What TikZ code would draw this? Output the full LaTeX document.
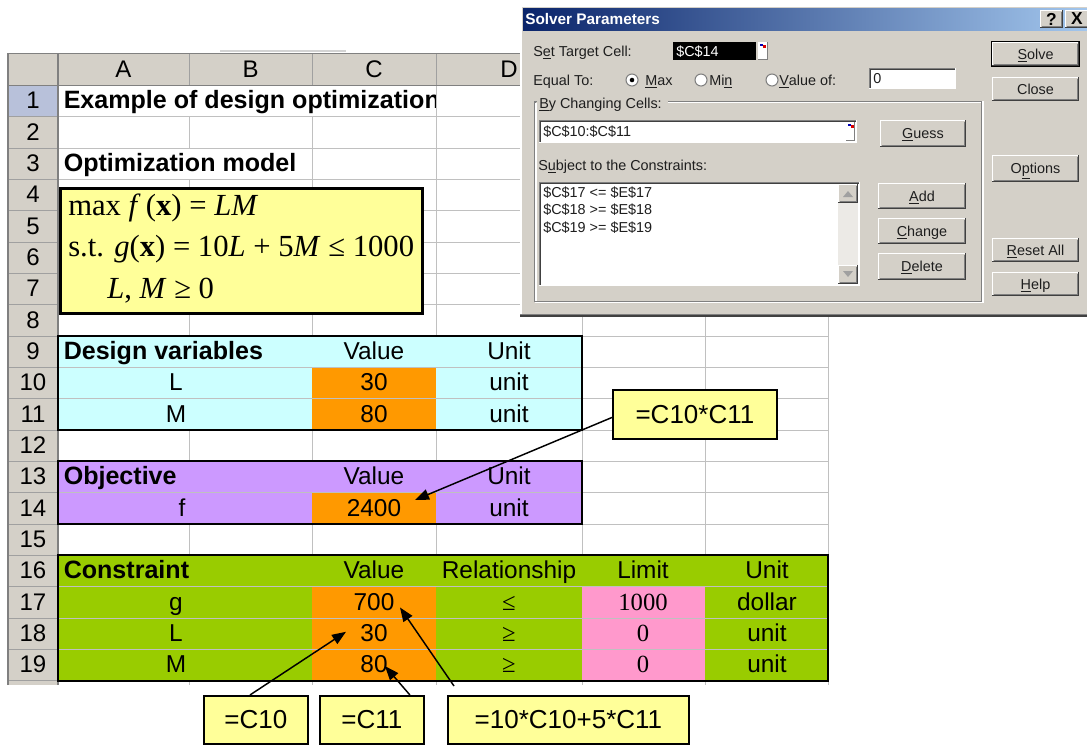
\documentclass[tikz,border=0pt]{standalone}
\usepackage{fontspec}
\setmainfont{Liberation Sans}
\newfontfamily\serifface{Liberation Serif}
\usetikzlibrary{arrows.meta,calc}

\definecolor{winface}{HTML}{D4D0C8}
\definecolor{winshadow}{HTML}{808080}
\definecolor{windark}{HTML}{404040}
\definecolor{gridgray}{HTML}{C0C0C0}
\definecolor{hdrline}{HTML}{A0A0A0}
\definecolor{selrow}{HTML}{B8C1DA}
\definecolor{cyanfill}{HTML}{CCFFFF}
\definecolor{purplefill}{HTML}{CC99FF}
\definecolor{greenfill}{HTML}{99CC00}
\definecolor{orangefill}{HTML}{FF9900}
\definecolor{pinkfill}{HTML}{FF99CC}
\definecolor{notefill}{HTML}{FFFF99}
\definecolor{titleA}{HTML}{0A246A}
\definecolor{titleB}{HTML}{A6CAF0}
\definecolor{dlgtext}{HTML}{1E1E1E}
\definecolor{trackfill}{HTML}{ECEAE6}

% worksheet rows: top edge, middle and text baseline of row #1
\newcommand\rtop[1]{(54.17+31.33*(#1))}
\newcommand\rmid[1]{(69.84+31.33*(#1))}
\newcommand\rbase[1]{(77.5+31.33*(#1))}

% classic 3D panels of the dialog
\newcommand\raisedpanel[4]{%
  \fill[winface] (#1,#2) rectangle (#3,#4);
  \draw[white,line width=0.8pt] (#1+0.5,#4-1) -- (#1+0.5,#2+0.5) -- (#3-1,#2+0.5);
  \draw[windark,line width=0.8pt] (#1,#4-0.5) -- (#3-0.5,#4-0.5) -- (#3-0.5,#2);
  \draw[winshadow,line width=0.8pt] (#1+1.5,#4-1.5) -- (#3-1.5,#4-1.5) -- (#3-1.5,#2+1.5);}
\newcommand\sunkenfield[5]{%
  \fill[#1] (#2,#3) rectangle (#4,#5);
  \draw[winshadow,line width=0.8pt] (#2+0.5,#5) -- (#2+0.5,#3+0.5) -- (#4,#3+0.5);
  \draw[windark,line width=0.8pt] (#2+1.5,#5-1) -- (#2+1.5,#3+1.5) -- (#4-1,#3+1.5);
  \draw[white,line width=0.8pt] (#2,#5-0.5) -- (#4-0.5,#5-0.5) -- (#4-0.5,#3);}
\newcommand\dlgbutton[6]{%
  \raisedpanel{#2}{#3}{#4}{#5}
  \node[dlg] (#1) at ({(#2+#4)/2},{(#3+#5)/2}) {#6};}
\newcommand\refbutton[4]{%
  \fill[white] (#1,#2) rectangle (#3,#4);
  \draw[winshadow,line width=0.8pt] (#3-0.5,#2) -- (#3-0.5,#4-0.5) -- (#1,#4-0.5);
  \fill[blue!70!black] (#1+2,#2+1.5) rectangle (#1+5,#2+3.5);
  \fill[red!85!black] (#1+5,#2+3) rectangle (#1+8,#2+6);}

\begin{document}
\begin{tikzpicture}[x=0.75pt,y=-0.75pt,
  cell/.style={inner sep=0pt, anchor=base, font=\fontsize{18.3}{20}\selectfont},
  headcell/.style={inner sep=0pt, anchor=base west, font=\fontsize{18.8}{20}\selectfont\bfseries},
  rownum/.style={inner sep=0pt, anchor=base, font=\fontsize{18}{20}\selectfont},
  sercell/.style={inner sep=0pt, anchor=base, font=\fontsize{18.5}{20}\selectfont\serifface},
  formula/.style={inner sep=0pt, anchor=base west, font=\fontsize{23}{26}\selectfont\serifface},
  modelbox/.style={draw=black, line width=2.3pt, fill=notefill, inner sep=0pt, anchor=north west},
  note/.style={draw=black, line width=1.4pt, fill=notefill, inner sep=0pt, anchor=north west,
    font=\fontsize{19.5}{22}\selectfont},
  arr/.style={-{Triangle[length=10.5pt,width=8pt]}, line width=1.1pt},
  gridline/.style={gridgray, line width=0.75pt},
  tableborder/.style={draw=black, line width=1.5pt},
  dlg/.style={inner sep=0pt, text height=7.7pt, text depth=0pt,
    font=\fontsize{10.8}{12}\selectfont, text=dlgtext},
  radio/.style={circle, draw=winshadow, fill=white, line width=0.8pt, minimum size=9pt, inner sep=0pt}]

\useasboundingbox (0,0) rectangle (1087,744);
\clip (0,0) rectangle (1087,744);
\fill[white] (0,0) rectangle (1087,744);

% ---------------- worksheet grid ----------------
\draw[gridgray!70, line width=0.9pt] (220,51) -- (346,51);
\draw[gridline] \foreach \i in {1,...,20} { (58,{\rtop{\i}}) -- (828,{\rtop{\i}}) };
\draw[gridline] \foreach \x in {189,312,436,582,705,828} { (\x,85.5) -- (\x,685) };
% overflowing titles hide the grid behind them
\fill[white] (59,{\rtop{1}+0.6}) rectangle (435.4,{\rtop{2}-0.6});
\fill[white] (59,{\rtop{3}+0.6}) rectangle (311.4,{\rtop{4}-0.6});

% column and row headers
\fill[winface] (8,53.5) rectangle (828,85.5);
\draw[hdrline, line width=0.75pt] \foreach \x in {189,312,436,582,705} { (\x,53.5) -- (\x,85.5) };
\fill[winface] (8,85.5) rectangle (58,685);
\fill[selrow] (8,85.5) rectangle (58,{\rtop{2}});
\draw[hdrline, line width=0.75pt] \foreach \i in {2,...,20} { (8,{\rtop{\i}}) -- (58,{\rtop{\i}}) };
\draw[winshadow, line width=0.9pt] (8,685) -- (8,53.5) -- (828,53.5);
\draw[winshadow, line width=0.9pt] (8,85.5) -- (828,85.5);
\draw[winshadow, line width=0.9pt] (58,53.5) -- (58,685);

\node[rownum] (colA) at (123.5,{\rbase{0}}) {A};
\node[rownum] (colB) at (250.5,{\rbase{0}}) {B};
\node[rownum] (colC) at (374,{\rbase{0}}) {C};
\node[rownum] (colD) at (509,{\rbase{0}}) {D};
\foreach \i in {1,...,19} { \node[rownum] (row\i) at (33,{\rbase{\i}}) {\i}; }

% headings
\begin{scope}
  \clip (58,85.5) rectangle (435.5,{\rtop{2}});
  \node[headcell] (sheettitle) at (63.5,{\rbase{1}}) {Example of design optimization};
\end{scope}
\node[headcell] (modelhead) at (63.5,{\rbase{3}}) {Optimization model};

% optimization model
\node[modelbox, minimum width=0.75*362pt, minimum height=0.75*125pt] (model) at (59,187) {};
\node[formula] (objline) at (68,215) {max \textit{f}\,(\textbf{x}) = \textit{LM}};
\node[formula] (conline) at (68,256.5) {s.t. \textit{g}(\textbf{x}) = 10\textit{L} + 5\textit{M} ≤ 1000};
\node[formula] (boundline) at (107,298) {\textit{L}, \textit{M} ≥ 0};

% ---------------- design variables ----------------
\fill[cyanfill] (58,{\rtop{9}}) rectangle (582,{\rtop{12}});
\fill[orangefill] (312,{\rtop{10}}) rectangle (436,{\rtop{12}});
\draw[gridline] (58,{\rtop{10}}) -- (582,{\rtop{10}}) (58,{\rtop{11}}) -- (582,{\rtop{11}});
\draw[tableborder] (58,{\rtop{9}}) rectangle (582,{\rtop{12}});
\node[headcell] (dvhead) at (63.5,{\rbase{9}}) {Design variables};
\node[cell] (dvvalue) at (374,{\rbase{9}}) {Value};
\node[cell] (dvunit) at (509,{\rbase{9}}) {Unit};
\node[cell] (nameL) at (176,{\rbase{10}}) {L};
\node[cell] (valL) at (374,{\rbase{10}}) {30};
\node[cell] (unitL) at (509,{\rbase{10}}) {unit};
\node[cell] (nameM) at (176,{\rbase{11}}) {M};
\node[cell] (valM) at (374,{\rbase{11}}) {80};
\node[cell] (unitM) at (509,{\rbase{11}}) {unit};

% ---------------- objective ----------------
\fill[purplefill] (58,{\rtop{13}}) rectangle (582,{\rtop{15}});
\fill[orangefill] (312,{\rtop{14}}) rectangle (436,{\rtop{15}});
\draw[gridline] (58,{\rtop{14}}) -- (582,{\rtop{14}});
\draw[tableborder] (58,{\rtop{13}}) rectangle (582,{\rtop{15}});
\node[headcell] (objhead) at (63.5,{\rbase{13}}) {Objective};
\node[cell] (objvalue) at (374,{\rbase{13}}) {Value};
\node[cell] (objunit) at (509,{\rbase{13}}) {Unit};
\node[cell] (namef) at (182,{\rbase{14}}) {f};
\node[cell] (valf) at (374,{\rbase{14}}) {2400};
\node[cell] (unitf) at (509,{\rbase{14}}) {unit};
\coordinate (C14) at (374,{\rmid{14}});

% ---------------- constraints ----------------
\fill[greenfill] (58,{\rtop{16}}) rectangle (828,{\rtop{20}});
\fill[orangefill] (312,{\rtop{17}}) rectangle (436,{\rtop{20}});
\fill[pinkfill] (582,{\rtop{17}}) rectangle (705,{\rtop{20}});
\draw[gridline] \foreach \i in {17,18,19} { (58,{\rtop{\i}}) -- (828,{\rtop{\i}}) };
\draw[tableborder] (58,{\rtop{16}}) rectangle (828,{\rtop{20}});
\node[headcell] (conhead) at (63.5,{\rbase{16}}) {Constraint};
\node[cell] (convalue) at (374,{\rbase{16}}) {Value};
\node[cell] (conrel) at (509,{\rbase{16}}) {Relationship};
\node[cell] (conlimit) at (643,{\rbase{16}}) {Limit};
\node[cell] (conunit) at (767,{\rbase{16}}) {Unit};
\node[cell] (nameg) at (176,{\rbase{17}}) {g};
\node[cell] (valg) at (374,{\rbase{17}}) {700};
\node[sercell] (relg) at (509,{\rbase{17}}) {≤};
\node[sercell] (limg) at (643,{\rbase{17}}) {1000};
\node[cell] (unitg) at (767,{\rbase{17}}) {dollar};
\node[cell] (nameL2) at (176,{\rbase{18}}) {L};
\node[cell] (valL2) at (374,{\rbase{18}}) {30};
\node[sercell] (relL2) at (509,{\rbase{18}}) {≥};
\node[sercell] (limL2) at (643,{\rbase{18}}) {0};
\node[cell] (unitL2) at (767,{\rbase{18}}) {unit};
\node[cell] (nameM2) at (176,{\rbase{19}}) {M};
\node[cell] (valM2) at (374,{\rbase{19}}) {80};
\node[sercell] (relM2) at (509,{\rbase{19}}) {≥};
\node[sercell] (limM2) at (643,{\rbase{19}}) {0};
\node[cell] (unitM2) at (767,{\rbase{19}}) {unit};
\coordinate (C17) at (374,{\rmid{17}});
\coordinate (C18) at (374,{\rmid{18}});
\coordinate (C19) at (374,{\rmid{19}});

% ---------------- formula callouts ----------------
\node[note, minimum width=0.75*164pt, minimum height=0.75*49pt] (fprod) at (612,389) {=C10*C11};
\node[note, minimum width=0.75*104pt, minimum height=0.75*48pt] (fL) at (203,695) {=C10};
\node[note, minimum width=0.75*104pt, minimum height=0.75*48pt] (fM) at (319,695) {=C11};
\node[note, minimum width=0.75*241pt, minimum height=0.75*48pt] (fg) at (447,695) {=10*C10+5*C11};

\draw[arr] ($(fprod.west)+(0,3)$) -- ($(C14)+(41,-8.5)$);
\draw[arr] ($(fL.north)+(-6,0)$) -- ($(C18)+(-28,-2)$);
\draw[arr] ($(fM.north)+(38,0)$) -- ($(C19)+(11,1)$);
\draw[arr] ($(fg.north west)+(7,-9)$) -- ($(C17)+(26,5)$);

% ---------------- Solver Parameters dialog ----------------
\fill[winface] (520,5) rectangle (1100,316);
\draw[white, line width=0.8pt] (521,316) -- (521,6) -- (1100,6);
\draw[winshadow, line width=0.8pt] (520,314.5) -- (1100,314.5);
\draw[windark, line width=1pt] (520,316) -- (1100,316);
\shade[left color=titleA, right color=titleB] (523,8) rectangle (1100,30);
\node[anchor=west, inner sep=0pt, text=white, font=\fontsize{11.5}{13}\selectfont\bfseries]
  (dlgtitle) at (525,19) {Solver Parameters};
\raisedpanel{1040}{10}{1063}{28}
\node[inner sep=0pt, font=\fontsize{13}{14}\selectfont\bfseries] (helpmark) at (1051.5,19) {?};
\raisedpanel{1065}{10}{1089}{28}
\node[inner sep=0pt, font=\fontsize{13}{14}\selectfont\bfseries] (closemark) at (1077,19) {X};

% target cell
\node[dlg, anchor=west] (lbltarget) at (533,51) {S\underline{e}t Target Cell:};
\fill[black] (673,42) rectangle (756,60);
\node[dlg, anchor=west, text=white] (target) at (676,51) {\$C\$14};
\refbutton{758}{42}{768}{60}

% equal to
\node[dlg, anchor=west] (lblequal) at (533,80) {Equal To:};
\node[radio] (rmax) at (632,80) {};
\fill[black] (rmax) circle (1.7pt);
\node[dlg, anchor=west] (lblmax) at (645,80) {\underline{M}ax};
\node[radio] (rmin) at (701,80) {};
\node[dlg, anchor=west] (lblmin) at (709,80) {Mi\underline{n}};
\node[radio] (rval) at (772,80) {};
\node[dlg, anchor=west] (lblval) at (779,80) {\underline{V}alue of:};
\sunkenfield{white}{869}{68}{956}{89}
\node[dlg, anchor=west] (valfield) at (873,78.5) {0};

% etched group frame
\draw[winshadow, line width=0.8pt] (668,101.5) -- (982,101.5) -- (982,301.5) -- (535,301.5) -- (535,101.5) -- (537,101.5);
\draw[white, line width=0.8pt] (668,102.5) -- (981,102.5) (983,101) -- (983,302.5) -- (535,302.5) (536,102.5) -- (536,300.5);

% changing cells
\node[dlg, anchor=west] (lblchanging) at (539,103) {\underline{B}y Changing Cells:};
\sunkenfield{white}{539}{120}{857}{143}
\node[dlg, anchor=west] (changing) at (543,131.5) {\$C\$10:\$C\$11};
\refbutton{846}{122}{855}{141}
\dlgbutton{guess}{880}{120}{966}{147}{\underline{G}uess}

% constraints list
\node[dlg, anchor=west] (lblsubject) at (538,165) {S\underline{u}bject to the Constraints:};
\sunkenfield{white}{539}{182}{860}{286}
\fill[trackfill] (838,184) rectangle (858,284);
\raisedpanel{838}{184}{858}{203}
\fill[hdrline] (843,197) -- (853,197) -- (848,191) -- cycle;
\raisedpanel{838}{265}{858}{284}
\fill[hdrline] (843,271) -- (853,271) -- (848,277) -- cycle;
\node[dlg, anchor=west] (con17) at (543,192) {\$C\$17 <= \$E\$17};
\node[dlg, anchor=west] (con18) at (543,209.5) {\$C\$18 >= \$E\$18};
\node[dlg, anchor=west] (con19) at (543,227) {\$C\$19 >= \$E\$19};

\dlgbutton{add}{878}{183}{966}{209}{\underline{A}dd}
\dlgbutton{change}{878}{218}{966}{244}{\underline{C}hange}
\dlgbutton{delete}{878}{253}{966}{280}{\underline{D}elete}

% command buttons
\dlgbutton{solve}{992}{42}{1079}{66}{\underline{S}olve}
\draw[black, line width=0.8pt] (991.5,41.5) rectangle (1079.5,66.5);
\dlgbutton{close}{992}{77}{1079}{101}{Close}
\dlgbutton{options}{992}{155}{1079}{182}{O\underline{p}tions}
\dlgbutton{reset}{992}{238}{1079}{262}{\underline{R}eset All}
\dlgbutton{help}{992}{272}{1079}{296}{\underline{H}elp}

\end{tikzpicture}
\end{document}
